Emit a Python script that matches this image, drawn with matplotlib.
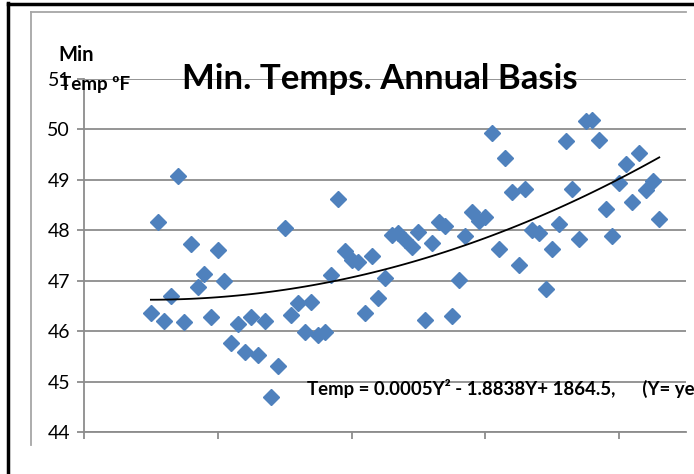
import numpy as np
import matplotlib
matplotlib.use("Agg")
from matplotlib import pyplot as plt
from matplotlib.lines import Line2D

# annual minimum temperatures (deg F), one value per year
years = np.arange(1890, 1967)
min_temp = [46.35, 48.16, 46.21, 46.70, 49.08, 46.19, 47.72, 46.87, 47.14, 46.28,
            47.61, 46.99, 45.77, 46.15, 45.58, 46.28, 45.53, 46.21, 44.70, 45.31,
            48.05, 46.33, 46.56, 45.98, 46.58, 45.93, 45.99, 47.11, 48.63, 47.59,
            47.41, 47.37, 46.35, 47.49, 46.66, 47.05, 47.90, 47.94, 47.80, 47.67,
            47.97, 46.23, 47.75, 48.17, 48.09, 46.31, 47.01, 47.89, 48.37, 48.19,
            48.27, 49.93, 47.62, 49.44, 48.75, 47.32, 48.82, 48.00, 47.94, 46.83,
            47.62, 48.12, 49.77, 48.81, 47.82, 50.16, 50.19, 49.80, 48.42, 47.88,
            48.93, 49.31, 48.56, 49.53, 48.80, 48.97, 48.22]
y_ticks = [44, 45, 46, 47, 48, 49, 50, 51]
x_ticks = [1880, 1900, 1920, 1940, 1960]

plt.rcParams['font.family'] = ['Lato', 'DejaVu Sans']

fig = plt.figure(figsize=(6.94, 4.74), dpi=100)
ax = fig.add_axes([84/694, 1 - 432/474, 602/694, 353/474])

grid_col = '#8c8c8c'
ax.set_xlim(1880, 1970)
ax.set_ylim(44, 51)
ax.set_yticks(y_ticks)
ax.set_xticks(x_ticks)
ax.set_xticklabels([])
ax.grid(axis='y', color=grid_col, linewidth=1.3)
ax.set_axisbelow(True)
for s in ['top', 'right']:
    ax.spines[s].set_visible(False)
for s in ['left', 'bottom']:
    ax.spines[s].set_color(grid_col)
    ax.spines[s].set_linewidth(1.3)
ax.tick_params(axis='both', colors=grid_col, width=1.3, length=5, labelsize=14,
               labelcolor='black', pad=5)

ax.plot(years, min_temp, 'D', color='#4F81BD', markersize=8.3, zorder=3)

# 2nd order polynomial trendline
coef = np.polyfit(years, min_temp, 2)
ax.plot(years, np.polyval(coef, years), color='black', linewidth=1.3, zorder=4)

fig.text(380/694, 1 - 89/474, 'Min. Temps. Annual Basis', ha='center', va='baseline',
         fontsize=25, fontweight='bold')
fig.text(58/694, 1 - 61/474, 'Min', ha='left', va='baseline', fontsize=14.5, fontweight='bold')
fig.text(60/694, 1 - 90/474, 'Temp ºF', ha='left', va='baseline', fontsize=13.5, fontweight='bold')
fig.text(307/694, 1 - 395/474, 'Temp = 0.0005Y² - 1.8838Y+ 1864.5,      (Y= year)',
         ha='left', va='baseline', fontsize=13.4, fontweight='bold')

# chart frames
fig.add_artist(Line2D([8/694, 8/694], [0, 1 - 3/474], color='black', linewidth=2.5))
fig.add_artist(Line2D([8/694, 1], [1 - 4/474, 1 - 4/474], color='black', linewidth=2.5))
fig.add_artist(Line2D([31/694, 31/694], [1 - 445/474, 1 - 12/474], color='#a6a6a6', linewidth=1.3))
fig.add_artist(Line2D([31/694, 686/694], [1 - 12/474, 1 - 12/474], color='#a6a6a6', linewidth=1.3))

fig.savefig('out.png', dpi=100)
